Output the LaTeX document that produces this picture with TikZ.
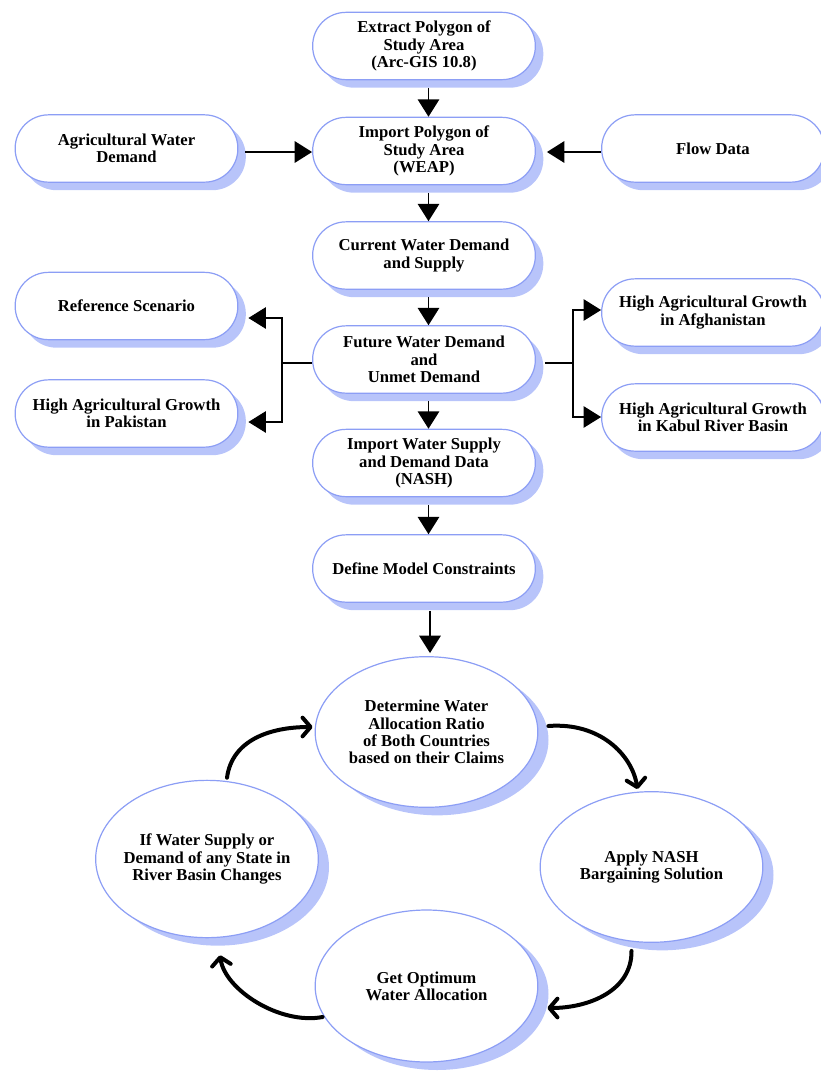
\documentclass[tikz,border=0pt]{standalone}
\usepackage{fontspec}
\setmainfont{Liberation Serif}
\usetikzlibrary{arrows.meta,shadows,shapes.geometric}
\definecolor{edgeblue}{RGB}{140,158,245}
\definecolor{shadeblue}{RGB}{184,196,250}
\newcommand\dtxt{\bfseries\fontsize{12.5}{13}\selectfont}
\begin{document}
\begin{tikzpicture}[x=0.75pt,y=-0.75pt,
  box/.style={draw=edgeblue, line width=0.9pt, fill=white, rounded corners=25pt,
    minimum width=167pt, minimum height=50.5pt, inner sep=2pt, align=center, font=\dtxt,
    drop shadow={shadow xshift=6pt, shadow yshift=-6pt, fill=shadeblue, opacity=1, draw=none}},
  oval/.style={ellipse, draw=edgeblue, line width=0.9pt, fill=white,
    minimum width=167pt, minimum height=113pt, inner sep=-6pt, align=center, font=\dtxt,
    drop shadow={shadow xshift=8pt, shadow yshift=-6pt, fill=shadeblue, opacity=1, draw=none}},
  arr/.style={line width=1.4pt, -{Triangle[length=13pt,width=16pt]}},
  branch/.style={line width=0.8pt},
  barr/.style={line width=0.8pt, -{Triangle[length=13pt,width=16pt]}},
  carr/.style={line width=3pt, line cap=round,
    -{Straight Barb[length=6pt,width=14pt,line cap=round,line join=round]}}
]
\useasboundingbox (0,0) rectangle (821,1075);
\clip (0,0) rectangle (821,1075);

% rounded boxes
\node[box] (ext) at (424,46) {Extract Polygon of\\Study Area\\(Arc-GIS 10.8)};
\node[box] (imp) at (424,151) {Import Polygon of\\Study Area\\(WEAP)};
\node[box] (agr) at (126.5,148.5) {Agricultural Water\\Demand};
\node[box] (flow) at (713,148.5) {Flow Data};
\node[box] (cur) at (424,255.5) {Current Water Demand\\and Supply};
\node[box] (fut) at (424,359.5) {Future Water Demand\\and\\Unmet Demand};
\node[box] (iws) at (424,463) {Import Water Supply\\and Demand Data\\(NASH)};
\node[box] (def) at (424,568.5) {Define Model Constraints};
\node[box] (ref) at (126.5,306) {Reference Scenario};
\node[box] (pak) at (126.5,413.5) {High Agricultural Growth\\in Pakistan};
\node[box] (afg) at (713,312.5) {High Agricultural Growth\\in Afghanistan};
\node[box] (kab) at (713,417.5) {High Agricultural Growth\\in Kabul River Basin};

% ellipses
\node[oval] (det) at (426.5,732) {Determine Water\\Allocation Ratio\\of Both Countries\\based on their Claims};
\node[oval] (app) at (651.5,867) {Apply NASH\\Bargaining Solution};
\node[oval, minimum height=114pt] (get) at (426.5,986) {Get Optimum\\Water Allocation};
\node[oval, minimum height=118pt] (ifw) at (207,859) {If Water Supply or\\Demand of any State in\\River Basin Changes};

% straight arrows
\draw[arr] ([shift={(4.5,7.5)}]ext.south) -- ([shift={(4.5,0)}]imp.north);
\draw[arr] ([shift={(4.5,7.5)}]imp.south) -- ([shift={(4.5,0)}]cur.north);
\draw[arr] ([shift={(4.5,7.5)}]cur.south) -- ([shift={(4.5,0)}]fut.north);
\draw[arr] ([shift={(4.5,7.5)}]fut.south) -- ([shift={(4.5,0)}]iws.north);
\draw[arr] ([shift={(4.5,7.5)}]iws.south) -- ([shift={(4.5,0)}]def.north);
\draw[arr] ([shift={(6,8)}]def.south) -- ([shift={(3.5,-3)}]det.north);
\draw[arr] ([shift={(7,3.5)}]agr.east) -- ([shift={(0,1)}]imp.west);
\draw[arr] ([shift={(0,3.5)}]flow.west) -- ([shift={(11,1)}]imp.east);

% branches
\coordinate (bl) at (282,363);
\coordinate (br) at (573,363);
\draw[branch] ([shift={(0,3.5)}]fut.west) -- (bl);
\draw[barr] (bl) |- ([shift={(10,12)}]ref.east);
\draw[barr] (bl) |- ([shift={(10,8.5)}]pak.east);
\draw[branch] ([shift={(9,3.5)}]fut.east) -- (br);
\draw[barr] (br) |- ([shift={(0,-2.5)}]afg.west);
\draw[barr] (br) |- ([shift={(0,-0.5)}]kab.west);

% cycle arrows
\draw[carr] ([shift={(10,-6)}]det.east) .. controls (600,722) and (632,755) .. ([shift={(-14,-2)}]app.north);
\draw[carr] ([shift={(-20,8)}]app.south) .. controls (632,990) and (590,1008) .. ([shift={(9,22)}]get.east);
\draw[carr] ([shift={(8,31)}]get.west) .. controls (280,1025) and (225,990) .. ([shift={(13,17)}]ifw.south);
\draw[carr] ([shift={(20,-2)}]ifw.north) .. controls (232,740) and (270,727) .. ([shift={(-2,-5)}]det.west);
\end{tikzpicture}
\end{document}
